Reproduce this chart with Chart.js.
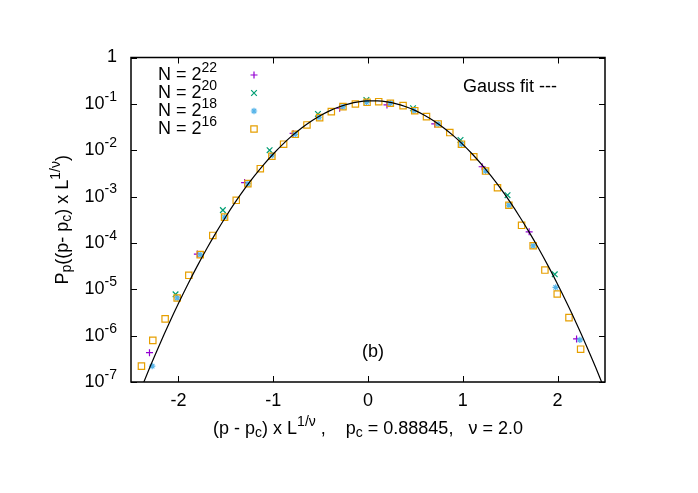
<!DOCTYPE html>
<html>
<head>
<meta charset="utf-8">
<script src="https://cdn.jsdelivr.net/npm/chart.js@4"></script>
<style>body{margin:0;background:#fff}</style>
</head>
<body>
<canvas id="chart" width="698" height="493"></canvas>
<script>
'use strict';

// N = 2^22 (purple +)
const x22 = [-2.305, -1.80, -1.302, -0.79, -0.299, 0.20, 0.704, 1.204, 1.70, 2.20];
const p22 = [4.3e-7, 5.75e-5, 2.0e-3, 2.3e-2, 8.04e-2, 9.47e-2, 3.69e-2, 4.4e-3, 1.74e-4, 8.5e-7];

// N = 2^20 (green x)
const x20 = [-2.03, -1.531, -1.038, -0.528, -0.017, 0.475, 0.976, 1.472, 1.97];
const p20 = [7.8e-6, 5.1e-4, 1.0e-2, 6.06e-2, 0.121, 8.04e-2, 1.66e-2, 1.07e-3, 2.1e-5];

// N = 2^18 (blue *)
const x18 = [-2.277, -2.013, -1.77, -1.513, -1.267, -1.01, -0.767, -0.517, -0.264, -0.017,
             0.236, 0.484, 0.74, 0.986, 1.24, 1.486, 1.742, 1.98, 2.235];
const p18 = [2.2e-7, 6.5e-6, 5.6e-5, 3.6e-4, 1.9e-3, 7.8e-3, 2.2e-2, 5.14e-2, 8.71e-2, 0.108,
             0.103, 7.13e-2, 3.69e-2, 1.35e-2, 3.55e-3, 6.5e-4, 8.7e-5, 1.1e-5, 8.1e-7];

// N = 2^16 (orange open square)
const x16 = [-2.39, -2.27, -2.14, -2.013, -1.89, -1.77, -1.637, -1.513, -1.39, -1.267,
             -1.136, -1.014, -0.89, -0.767, -0.644, -0.51, -0.387, -0.264, -0.133, -0.01,
             0.113, 0.236, 0.37, 0.493, 0.617, 0.74, 0.863, 0.986, 1.116, 1.24,
             1.366, 1.486, 1.62, 1.742, 1.866, 1.996, 2.12, 2.243];
const p16 = [2.2e-7, 7.9e-7, 2.3e-6, 6.5e-6, 2.0e-5, 5.6e-5, 1.45e-4, 3.6e-4, 8.3e-4, 1.9e-3,
             4.0e-3, 7.4e-3, 1.35e-2, 2.2e-2, 3.51e-2, 5.04e-2, 6.79e-2, 8.71e-2, 9.95e-2, 0.108,
             0.1115, 0.103, 9.15e-2, 7.13e-2, 5.3e-2, 3.69e-2, 2.4e-2, 1.35e-2, 7.24e-3, 3.55e-3,
             1.55e-3, 6.5e-4, 2.4e-4, 8.7e-5, 2.6e-5, 7.9e-6, 2.45e-6, 5.1e-7];

// Gauss fit
const xFit = [-2.5, -2.4, -2.3, -2.2, -2.1, -2.0, -1.9, -1.8, -1.7, -1.6, -1.5, -1.4, -1.3,
              -1.2, -1.1, -1.0, -0.9, -0.8, -0.7, -0.6, -0.5, -0.4, -0.3, -0.2, -0.1, 0.0,
              0.1, 0.2, 0.3, 0.4, 0.5, 0.6, 0.7, 0.8, 0.9, 1.0, 1.1, 1.2, 1.3, 1.4, 1.5,
              1.6, 1.7, 1.8, 1.9, 2.0, 2.1, 2.2, 2.3, 2.4, 2.5];
const pFit = [2.0e-8, 6.6e-8, 2.1e-7, 6.31e-7, 1.81e-6, 4.95e-6, 1.29e-5, 3.2e-5, 7.59e-5, 1.71e-4,
              3.68e-4, 7.56e-4, 1.48e-3, 2.75e-3, 4.89e-3, 8.29e-3, 1.34e-2, 2.06e-2, 3.02e-2, 4.23e-2,
              5.63e-2, 7.15e-2, 8.66e-2, 0.100, 0.110, 0.1154, 0.1154, 0.110, 0.100, 8.66e-2,
              7.15e-2, 5.63e-2, 4.23e-2, 3.02e-2, 2.06e-2, 1.34e-2, 8.29e-3, 4.89e-3, 2.75e-3, 1.48e-3,
              7.56e-4, 3.68e-4, 1.71e-4, 7.59e-5, 3.2e-5, 1.29e-5, 4.95e-6, 1.81e-6, 6.31e-7, 2.1e-7,
              6.6e-8];

const xTicks = [-2, -1, 0, 1, 2];
const yTickExps = [0, -1, -2, -3, -4, -5, -6, -7];
const legendExps = ['22', '20', '18', '16'];

const FONT = '"Liberation Sans", Arial, sans-serif';
const big = '18px ' + FONT;
const small = '14px ' + FONT;

const pts = (xs, ys) => xs.map((x, i) => ({x, y: ys[i]}));

const series = [
    {label: 'N = 2^22', data: pts(x22, p22), color: '#9400d3', style: 'cross', r: 3.5},
    {label: 'N = 2^20', data: pts(x20, p20), color: '#009e73', style: 'crossRot', r: 4},
    {label: 'N = 2^18', data: pts(x18, p18), color: '#56b4e9', style: 'star', r: 3.2},
    {label: 'N = 2^16', data: pts(x16, p16), color: '#e69f00', style: 'rect', r: 4.5}
];

// draw text made of normal / superscript / subscript pieces
function rich(ctx, parts, x, y, align) {
    const w = parts.map(([t, k]) => { ctx.font = k ? small : big; return ctx.measureText(t).width; });
    const total = w.reduce((a, b) => a + b, 0);
    let cx = align === 'right' ? x - total : align === 'center' ? x - total / 2 : x;
    parts.forEach(([t, k], i) => {
        ctx.font = k ? small : big;
        ctx.fillText(t, cx, y + (k === 1 ? -7 : k === -1 ? 4.5 : 0));
        cx += w[i];
    });
}

const frame = {
    id: 'frame',
    afterDraw(chart) {
        const {ctx, chartArea: a, scales: {x, y}} = chart;
        ctx.save();
        ctx.strokeStyle = '#000';
        ctx.fillStyle = '#000';
        ctx.lineWidth = 1;
        ctx.beginPath();
        xTicks.forEach(v => {
            const px = Math.round(x.getPixelForValue(v)) + 0.5;
            ctx.moveTo(px, a.bottom); ctx.lineTo(px, a.bottom - 6);
            ctx.moveTo(px, a.top); ctx.lineTo(px, a.top + 6);
        });
        yTickExps.forEach(e => {
            const py = Math.round(y.getPixelForValue(Math.pow(10, e))) + 0.5;
            ctx.moveTo(a.left, py); ctx.lineTo(a.left + 6, py);
            ctx.moveTo(a.right, py); ctx.lineTo(a.right - 6, py);
        });
        ctx.stroke();
        ctx.lineWidth = 1.5;
        ctx.strokeRect(a.left, a.top, a.right - a.left, a.bottom - a.top);

        ctx.textBaseline = 'middle';
        xTicks.forEach(v => rich(ctx, [[String(v), 0]], x.getPixelForValue(v), 401, 'center'));
        yTickExps.forEach(e => {
            const py = y.getPixelForValue(Math.pow(10, e));
            rich(ctx, e === 0 ? [['1', 0]] : [['10', 0], [String(e), 1]], 117, py, 'right');
        });

        rich(ctx, [['(p - p', 0], ['c', -1], [') x L', 0], ['1/\u03bd', 1],
                   [' ,    p', 0], ['c', -1], [' = 0.88845,   \u03bd = 2.0', 0]],
             (a.left + a.right) / 2, 429, 'center');

        ctx.save();
        ctx.translate(63, (a.top + a.bottom) / 2);
        ctx.rotate(-Math.PI / 2);
        rich(ctx, [['P', 0], ['p', -1], ['((p- p', 0], ['c', -1], [') x L', 0], ['1/\u03bd', 1], [')', 0]],
             0, 0, 'center');
        ctx.restore();

        rich(ctx, [['Gauss fit ---', 0]], 463, 87, 'left');
        rich(ctx, [['(b)', 0]], 373, 352, 'center');

        // key
        series.forEach((s, i) => {
            const ry = 75 + i * 18;
            ctx.fillStyle = '#000';
            rich(ctx, [['N = 2', 0], [legendExps[i], 1]], 217, ry, 'right');
            ctx.strokeStyle = s.color;
            ctx.fillStyle = 'rgba(0,0,0,0)';
            ctx.lineWidth = 1.2;
            Chart.helpers.drawPoint(ctx, {pointStyle: s.style, radius: s.r, borderWidth: 1.2}, 254, ry);
        });
        ctx.restore();
    }
};

const datasets = [{
    label: 'Gauss fit',
    data: pts(xFit, pFit),
    showLine: true,
    borderColor: '#000',
    borderWidth: 1.2,
    pointRadius: 0,
    tension: 0.3
}];
// orange first so it sits above blue, green and purple, as in the plot
series.slice().reverse().forEach(s => datasets.push({
    label: s.label,
    data: s.data,
    showLine: false,
    pointStyle: s.style,
    pointRadius: s.r,
    borderColor: s.color,
    backgroundColor: 'rgba(0,0,0,0)',
    borderWidth: 1.2
}));

new Chart(document.getElementById('chart').getContext('2d'), {
    type: 'scatter',
    data: {datasets},
    options: {
        responsive: false,
        animation: false,
        layout: {padding: {left: 131, right: 93, top: 57.5, bottom: 111}},
        plugins: {legend: {display: false}, tooltip: {enabled: false}},
        scales: {
            x: {type: 'linear', min: -2.5, max: 2.5, display: false},
            y: {type: 'logarithmic', min: 1e-7, max: 1, display: false}
        }
    },
    plugins: [frame]
});
</script>
</body>
</html>
